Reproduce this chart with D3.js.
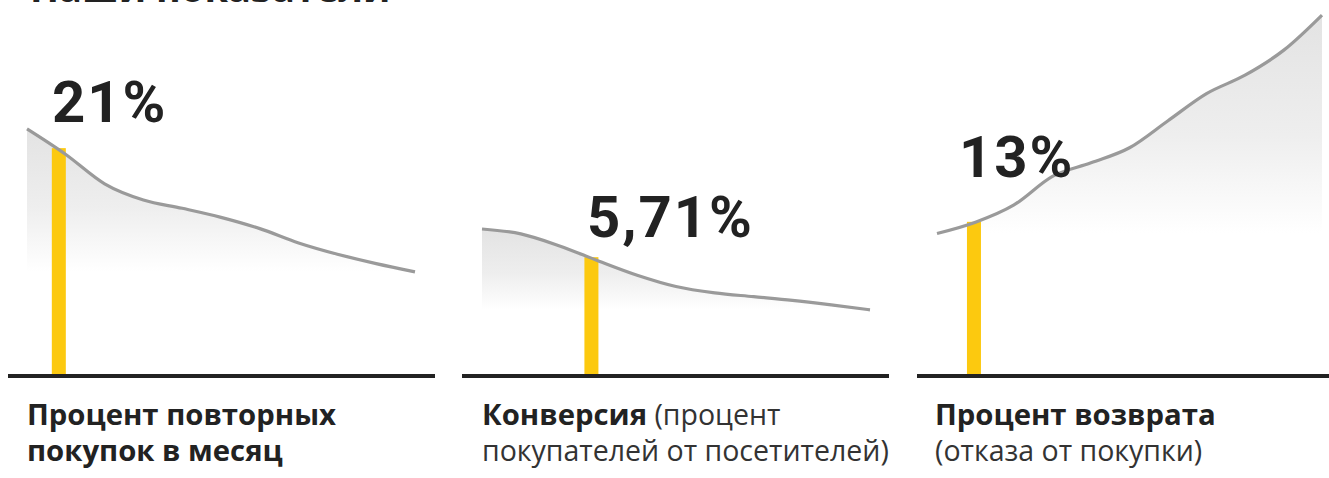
<!DOCTYPE html>
<html>
<head>
<meta charset="utf-8">
<script src="https://cdn.jsdelivr.net/npm/d3@7"></script>
<style>
  html, body { margin: 0; padding: 0; background: #ffffff; }
  svg { display: block; }
</style>
</head>
<body>
<script>
// ---- DATA ----
const titleText = "Наши показатели";
const metricLabels = ["21%", "5,71%", "13%"];
const captionBold = [["Процент повторных", "покупок в месяц"], ["Конверсия", ""], ["Процент возврата", ""]];
const captionRegular = [["", ""], [" (процент", "покупателей от посетителей)"], ["", "(отказа от покупки)"]];
// trend lines (abstract index 0-100, 11 evenly spaced points per panel)
const trendRepeat = [65.7, 58.9, 51.1, 46.8, 44.6, 42.2, 39.2, 35.4, 32.4, 29.9, 27.7];
const trendConversion = [39.1, 37.8, 34.6, 30.6, 26.8, 23.8, 22.1, 21.1, 20.1, 18.9, 17.6];
const trendReturn = [37.9, 40.9, 45.5, 53.1, 56.7, 60.7, 67.9, 75.1, 80.0, 86.6, 96.0];
// highlighted bar position (fractional point index) and height
const barIndex = [0.82, 2.82, 0.96];
const barValue = [60.6, 31.6, 41.0];

// ---- LAYOUT ----
const W = 1329, H = 478;
const baseY = 376;
const panels = [
  { series: trendRepeat, x0: 27, x1: 415, axis: [8, 435], labelX: 52, labelY: 122, capX: 27 },
  { series: trendConversion, x0: 482, x1: 870, axis: [462, 889], labelX: 587, labelY: 237, capX: 482 },
  { series: trendReturn, x0: 937, x1: 1322, axis: [917, 1335], labelX: 959, labelY: 177, capX: 935 }
];

const svg = d3.select("body").append("svg").attr("width", W).attr("height", H);
const defs = svg.append("defs");
const grad = defs.append("linearGradient").attr("id", "fade")
  .attr("x1", 0).attr("y1", 0).attr("x2", 0).attr("y2", 1);
grad.append("stop").attr("offset", "0%").attr("stop-color", "#e3e3e3");
grad.append("stop").attr("offset", "55%").attr("stop-color", "#eeeeee");
grad.append("stop").attr("offset", "100%").attr("stop-color", "#ffffff");

const y = d3.scaleLinear().domain([0, 100]).range([baseY, 0]);

// title (mostly cropped at top, as in the reference)
svg.append("text").attr("x", 30).attr("y", 2)
  .attr("font-family", "Open Sans").attr("font-weight", 700).attr("font-size", 38)
  .attr("fill", "#222").text(titleText);

panels.forEach((p, i) => {
  const g = svg.append("g");
  const x = d3.scaleLinear().domain([0, p.series.length - 1]).range([p.x0, p.x1]);
  const minV = d3.min(p.series);
  const area = d3.area().x((d, j) => x(j)).y0(y(minV)).y1(d => y(d)).curve(d3.curveMonotoneX);
  const line = d3.line().x((d, j) => x(j)).y(d => y(d)).curve(d3.curveMonotoneX);

  g.append("path").datum(p.series).attr("d", area).attr("fill", "url(#fade)");
  g.append("rect")
    .attr("x", x(barIndex[i]) - 7).attr("width", 14)
    .attr("y", y(barValue[i])).attr("height", y(0) - y(barValue[i]))
    .attr("fill", "#fcc90f");
  g.append("path").datum(p.series).attr("d", line)
    .attr("fill", "none").attr("stroke", "#9a9a9a").attr("stroke-width", 3.2);
  g.append("line").attr("x1", p.axis[0]).attr("x2", p.axis[1])
    .attr("y1", y(0)).attr("y2", y(0))
    .attr("stroke", "#222").attr("stroke-width", 4);

  g.append("text").attr("x", p.labelX).attr("y", p.labelY)
    .attr("font-family", "Roboto").attr("font-weight", 700).attr("font-size", 58)
    .attr("letter-spacing", 2)
    .attr("fill", "#222").text(metricLabels[i]);

  [0, 1].forEach(k => {
    const t = g.append("text").attr("x", p.capX).attr("y", 425 + k * 36)
      .attr("font-family", "Open Sans").attr("fill", "#222");
    if (captionBold[i][k]) t.append("tspan").attr("font-weight", 700).attr("font-size", 29.3).text(captionBold[i][k]);
    if (captionRegular[i][k]) t.append("tspan").attr("font-weight", 400).attr("font-size", 28.5).attr("fill", "#333").text(captionRegular[i][k]);
  });
});
</script>
</body>
</html>
